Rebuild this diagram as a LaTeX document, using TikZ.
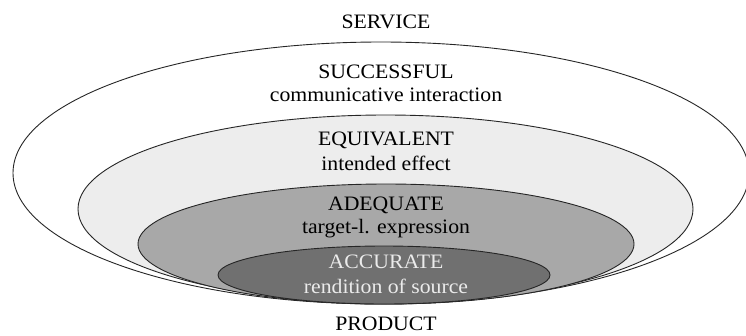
\documentclass[tikz,border=0pt]{standalone}
\usepackage{fontspec}
\setmainfont{Liberation Serif}[FakeStretch=1.06]

\begin{document}
\begin{tikzpicture}[x=1pt,y=-1pt,every node/.style={font=\fontsize{20.5}{24}\selectfont,anchor=base,inner sep=0pt},
    ring/.style={draw=black!85,line width=0.9pt}]
    \useasboundingbox (0,0) rectangle (746,335);
    % nested levels, all touching at the bottom
    \draw[ring,fill=white] (381,173) ellipse [x radius=368,y radius=131];
    \draw[ring,fill=black!7] (385.5,209) ellipse [x radius=307.5,y radius=94];
    \draw[ring,fill=black!34] (386,244) ellipse [x radius=248,y radius=60];
    \draw[ring,fill=black!56] (384,275) ellipse [x radius=166,y radius=29];
    \node (service) at (386,28) {SERVICE};
    \node (successful) at (386,78) {SUCCESSFUL};
    \node (interaction) at (386,101) {communicative interaction};
    \node (equivalent) at (386,145) {EQUIVALENT};
    \node (effect) at (386,170) {intended effect};
    \node (adequate) at (386,210) {ADEQUATE};
    \node (expression) at (386,233) {target-l. expression};
    \node[text=black!8] (accurate) at (386,268) {ACCURATE};
    \node[text=black!8] (rendition) at (386,293) {rendition of source};
    \node (product) at (386,330) {PRODUCT};
  \end{tikzpicture}
\end{document}
